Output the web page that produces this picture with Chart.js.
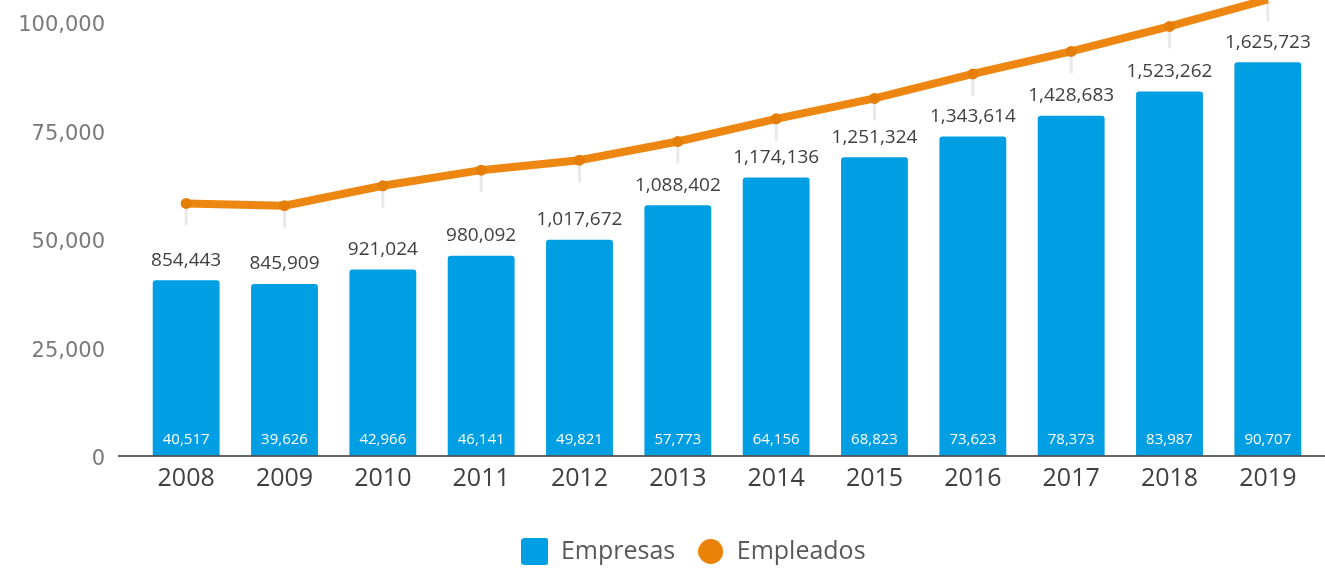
<!DOCTYPE html>
<html lang="es">
<head>
    <meta charset="UTF-8">
    <title>Empresas y Empleados</title>
    <script src="https://cdnjs.cloudflare.com/ajax/libs/Chart.js/4.4.0/chart.umd.min.js"></script>
    <style>
        html, body { margin: 0; padding: 0; background: #fff; }
        .chart-container { position: relative; width: 1325px; height: 568px; }
    </style>
</head>
<body>
    <div class="chart-container">
        <canvas id="mainChart" width="1325" height="568"></canvas>
    </div>

    <script>
        // Data
        const years = ['2008', '2009', '2010', '2011', '2012', '2013', '2014', '2015', '2016', '2017', '2018', '2019'];
        const empresas = [40517, 39626, 42966, 46141, 49821, 57773, 64156, 68823, 73623, 78373, 83987, 90707];
        const empleados = [854443, 845909, 921024, 980092, 1017672, 1088402, 1174136, 1251324, 1343614, 1428683, 1523262, 1625723];
        const yTicks = [0, 25000, 50000, 75000, 100000];

        const blue = '#009FE3';
        const orange = '#EE8712';
        const fmt = v => v.toLocaleString('en-US');

        // legend markers
        function makeMarker(type, color, size) {
            const c = document.createElement('canvas');
            c.width = size; c.height = size;
            const g = c.getContext('2d');
            g.fillStyle = color;
            g.beginPath();
            if (type === 'circle') {
                g.arc(size / 2, size / 2, size / 2, 0, Math.PI * 2);
            } else {
                g.roundRect(0, 0, size, size, 3);
            }
            g.fill();
            return c;
        }
        const squareMarker = makeMarker('rect', blue, 27);
        const circleMarker = makeMarker('circle', '#EA8207', 25);

        // leader lines, value labels and baseline
        const labelsPlugin = {
            id: 'labelsPlugin',
            afterLayout(chart) {
                // legend sits a bit right of centre in the original
                chart.legend.left += 35;
                chart.legend.right += 35;
            },
            beforeDatasetsDraw(chart) {
                const ctx = chart.ctx;
                const pts = chart.getDatasetMeta(1).data;
                ctx.save();
                ctx.strokeStyle = '#E9E9E9';
                ctx.lineWidth = 3;
                pts.forEach(p => {
                    ctx.beginPath();
                    ctx.moveTo(p.x, p.y);
                    ctx.lineTo(p.x, p.y + 22);
                    ctx.stroke();
                });
                ctx.restore();
            },
            afterDatasetsDraw(chart) {
                const ctx = chart.ctx;
                const bars = chart.getDatasetMeta(0).data;
                const area = chart.chartArea;
                ctx.save();
                ctx.textAlign = 'center';
                ctx.textBaseline = 'middle';
                bars.forEach((b, i) => {
                    ctx.fillStyle = '#ffffff';
                    ctx.font = '15px "Open Sans"';
                    ctx.fillText(fmt(empresas[i]), b.x, b.base - 16);
                    ctx.fillStyle = '#404040';
                    ctx.font = '19px "Open Sans"';
                    ctx.fillText(fmt(empleados[i]), b.x, b.y - 20);
                });
                // baseline
                ctx.strokeStyle = '#333333';
                ctx.lineWidth = 1.5;
                ctx.beginPath();
                ctx.moveTo(118, area.bottom);
                ctx.lineTo(chart.width, area.bottom);
                ctx.stroke();
                ctx.restore();
            }
        };

        const ctx = document.getElementById('mainChart').getContext('2d');
        new Chart(ctx, {
            type: 'bar',
            data: {
                labels: years,
                datasets: [{
                    label: 'Empresas',
                    data: empresas,
                    backgroundColor: blue,
                    borderRadius: { topLeft: 3, topRight: 3 },
                    borderSkipped: 'start',
                    categoryPercentage: 1,
                    barPercentage: 0.68,
                    yAxisID: 'y'
                }, {
                    type: 'line',
                    label: 'Empleados',
                    data: empleados,
                    borderColor: orange,
                    borderWidth: 8,
                    pointRadius: 5.5,
                    pointBorderWidth: 0,
                    pointBackgroundColor: '#E57E07',
                    tension: 0,
                    clip: false,
                    yAxisID: 'y1'
                }]
            },
            options: {
                responsive: false,
                maintainAspectRatio: false,
                animation: false,
                layout: { padding: { top: 22, right: 8, left: 0, bottom: -6 } },
                plugins: {
                    tooltip: { enabled: false },
                    legend: {
                        position: 'bottom',
                        labels: {
                            usePointStyle: true,
                            pointStyleWidth: 27,
                            padding: 22,
                            color: '#595959',
                            font: { family: '"Open Sans"', size: 25 },
                            generateLabels(chart) {
                                const items = Chart.defaults.plugins.legend.labels.generateLabels(chart);
                                items.forEach(it => {
                                    it.pointStyle = it.datasetIndex === 0 ? squareMarker : circleMarker;
                                });
                                return items;
                            }
                        }
                    }
                },
                scales: {
                    x: {
                        grid: { display: false },
                        border: { display: false },
                        ticks: {
                            color: '#404040',
                            font: { family: '"Open Sans"', size: 25 },
                            padding: 0,
                            maxRotation: 0,
                            autoSkip: false
                        },
                        afterFit(s) { s.height = 61; }
                    },
                    y: {
                        min: 0,
                        max: 100000,
                        grid: {
                            display: true,
                            color: 'rgba(0,0,0,0)',
                            drawOnChartArea: false,
                            drawTicks: true,
                            tickLength: 32
                        },
                        border: { display: false },
                        afterBuildTicks(s) { s.ticks = yTicks.map(v => ({ value: v })); },
                        ticks: {
                            color: '#7a7a7a',
                            padding: 0,
                            labelOffset: 4,
                            font: { family: '"DejaVu Sans"', size: 21 },
                            callback: v => fmt(v)
                        },
                        afterFit(s) { s.width = 137; }
                    },
                    y1: {
                        display: false,
                        position: 'right',
                        min: -100000,
                        max: 1540000
                    }
                }
            },
            plugins: [labelsPlugin]
        });
    </script>
</body>
</html>
